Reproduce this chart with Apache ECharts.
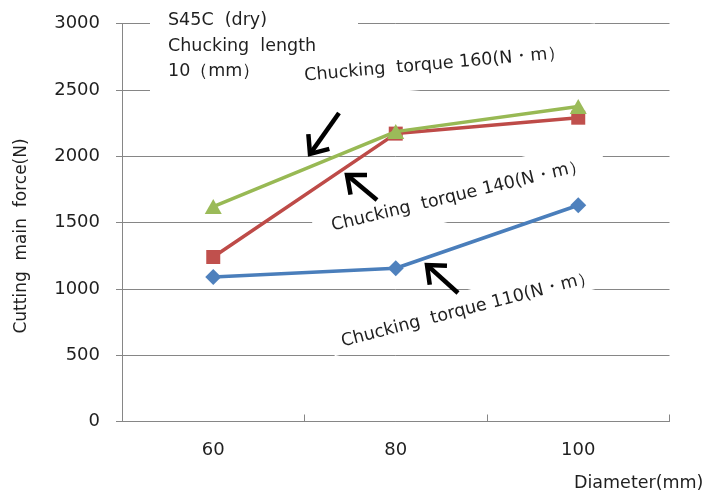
<!DOCTYPE html>
<html>
<head>
<meta charset="utf-8">
<style>
  html, body { margin: 0; padding: 0; background: #fff; }
  #chart { width: 708px; height: 497px; }
</style>
<script src="https://cdn.jsdelivr.net/npm/echarts/dist/echarts.min.js"></script>
</head>
<body>
<div id="chart"></div>
<script>
// Diameter categories (mm)
const diameters = ['60', '80', '100'];

// Cutting main force (N) per chucking torque
const torque110 = [1090, 1155, 1630];
const torque140 = [1240, 2170, 2290];
const torque160 = [1620, 2185, 2375];

const seriesNames = [
  'Chucking  torque 110(N・m）',
  'Chucking  torque 140(N・m）',
  'Chucking  torque 160(N・m）'
];

const yMin = 0, yMax = 3000, yStep = 500;

const noteLines = ['S45C  (dry)', 'Chucking  length', '10（mm）'];
const xName = 'Diameter(mm)';
const yName = 'Cutting  main  force(N)';

const FONT = '"DejaVu Sans", sans-serif';
const TEXT = '#1f1f1f';
const GRID = '#868686';

// White text boxes laid over the gridlines, each holding one rotated caption
function captionBox(text, ox, oy, deg, box) {
  return {
    type: 'group',
    x: ox, y: oy,
    rotation: deg * Math.PI / 180,
    children: [
      { type: 'rect', z: 1,
        shape: { x: box[0], y: box[1], width: box[2] - box[0], height: box[3] - box[1] },
        style: { fill: '#fff' } },
      { type: 'text', z: 5, x: 0, y: -6,
        style: { text: text, font: '17.5px ' + FONT, fill: TEXT, align: 'left', verticalAlign: 'middle' } }
    ]
  };
}

// Thick black pointer with an open V head
function pointer(tail, tip) {
  const dx = tip[0] - tail[0], dy = tip[1] - tail[1];
  const len = Math.hypot(dx, dy);
  const ux = dx / len, uy = dy / len;
  const head = 20, spread = 40 * Math.PI / 180;
  const arm = (s) => {
    const c = Math.cos(s), n = Math.sin(s);
    const rx = ux * c - uy * n, ry = ux * n + uy * c;
    return [tip[0] - rx * head, tip[1] - ry * head];
  };
  return [
    { type: 'polyline', z: 5, shape: { points: [tail, [tip[0] - ux * 2, tip[1] - uy * 2]] },
      style: { stroke: '#000', lineWidth: 4.5, fill: null } },
    { type: 'polyline', z: 5, shape: { points: [arm(spread), tip, arm(-spread)] },
      style: { stroke: '#000', lineWidth: 4.5, fill: null, lineJoin: 'miter' } }
  ];
}

const chart = echarts.init(document.getElementById('chart'), null, { renderer: 'canvas' });

const graphics = [
  // material / setup note
  { type: 'rect', z: 1, shape: { x: 150, y: 4, width: 208, height: 91 }, style: { fill: '#fff' } },
  { type: 'text', z: 5, x: 168, y: 8,
    style: { text: noteLines.join('\n'), font: '17.5px ' + FONT, lineHeight: 25.5, fill: TEXT,
             align: 'left', verticalAlign: 'top' } },
  captionBox(seriesNames[2], 305, 82, 5, [-14, -33, 294, 18]),
  captionBox(seriesNames[1], 333, 232, 13.5, [-18, -29, 280, 17]),
  captionBox(seriesNames[0], 343, 348, 14.5, [-10, -25, 330, 6]),
  ...pointer([339, 113], [310, 154]),
  ...pointer([377, 200], [347, 175]),
  ...pointer([458, 293], [427, 265]),
  // axis titles
  { type: 'text', z: 5, x: 22, y: 236, rotation: Math.PI / 2,
    style: { text: yName, font: '17px ' + FONT, fill: TEXT, align: 'center', verticalAlign: 'middle' } },
  { type: 'text', z: 5, x: 574, y: 483,
    style: { text: xName, font: '17.5px ' + FONT, fill: TEXT, align: 'left', verticalAlign: 'middle' } }
];

const option = {
  animation: false,
  backgroundColor: '#fff',
  grid: { left: 122, top: 23.5, right: 38.5, bottom: 75.5, containLabel: false },
  xAxis: {
    type: 'category',
    data: diameters,
    boundaryGap: true,
    axisLine: { lineStyle: { color: GRID, width: 1 } },
    axisTick: { show: true, inside: true, length: 7, lineStyle: { color: GRID } },
    axisLabel: { color: TEXT, fontSize: 18, fontFamily: FONT, margin: 20 },
    splitLine: { show: false }
  },
  yAxis: {
    type: 'value',
    min: yMin, max: yMax, interval: yStep,
    axisLine: { show: true, lineStyle: { color: GRID, width: 1 } },
    axisTick: { show: true, length: 6, lineStyle: { color: GRID } },
    axisLabel: { color: TEXT, fontSize: 18, fontFamily: FONT, margin: 22,
                 formatter: (v) => String(v) },
    splitLine: { show: true, lineStyle: { color: GRID, width: 1 } }
  },
  series: [
    { name: seriesNames[0], type: 'line', data: torque110, z: 2,
      symbol: 'diamond', symbolSize: 16,
      lineStyle: { color: '#4a7ebb', width: 3.5 },
      itemStyle: { color: '#4f81bd' } },
    { name: seriesNames[1], type: 'line', data: torque140, z: 3,
      symbol: 'rect', symbolSize: 14,
      lineStyle: { color: '#be4b48', width: 3.5 },
      itemStyle: { color: '#c0504d' } },
    { name: seriesNames[2], type: 'line', data: torque160, z: 4,
      symbol: 'triangle', symbolSize: [17, 15],
      lineStyle: { color: '#98b954', width: 3.5 },
      itemStyle: { color: '#9bbb59' } }
  ],
  graphic: graphics
};

chart.setOption(option);
</script>
</body>
</html>
